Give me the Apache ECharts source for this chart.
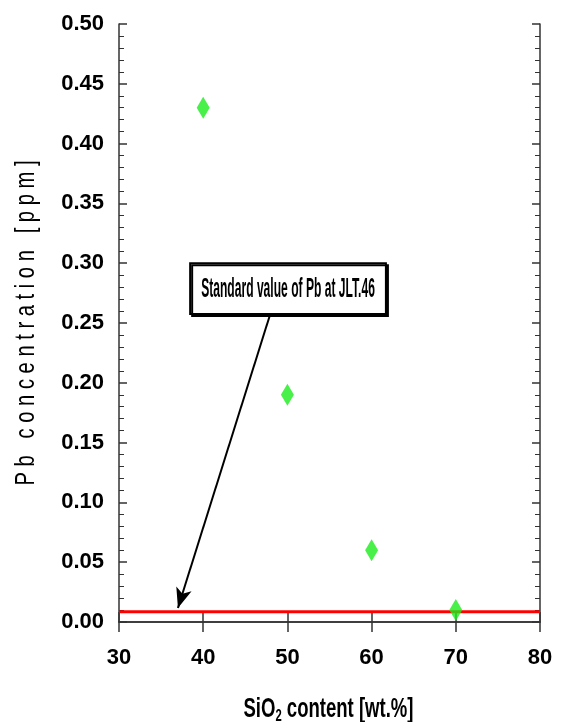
<!DOCTYPE html>
<html>
<head>
<meta charset="utf-8">
<script src="https://cdn.jsdelivr.net/npm/echarts@6/dist/echarts.min.js"></script>
<style>
html,body{margin:0;padding:0;background:#fff;}
#chart{width:563px;height:722px;}
</style>
</head>
<body>
<div id="chart"></div>
<script>
// Data
const sio2 = [40, 50, 60, 70];
const pb = [0.43, 0.19, 0.06, 0.01];
const standardValue = 0.0085;
const xRange = [30, 80];
const yRange = [0, 0.5];
const annotationText = 'Standard value of Pb at JLT.46';
const yTitle = 'P b   c o n c e n t r a t i o n   [ p p m ]';
const xTitleMain = 'SiO';
const xTitleSub = '2';
const xTitleRest = ' content [wt.%]';
const arrowFrom = [47.9, 0.256];
const arrowTo = [37.0, 0.0117];
const boxTopLeft = [38.45, 0.300];
const boxBottomRight = [61.7, 0.2575];

const FONT = '"Liberation Sans", Arial, sans-serif';

function measure(text, font) {
  const c = document.createElement('canvas').getContext('2d');
  c.font = font;
  return c.measureText(text).width;
}

const chart = echarts.init(document.getElementById('chart'), null, {renderer: 'canvas'});

const axisLine = {show: true, lineStyle: {color: '#333', width: 1.5}};

const option = {
  backgroundColor: '#fff',
  animation: false,
  grid: {left: 119, right: 23, top: 24, bottom: 100, containLabel: false, outerBoundsMode: 'none'},
  xAxis: [
    {
      type: 'value', position: 'bottom', min: xRange[0], max: xRange[1], interval: 10,
      axisLine: axisLine,
      axisTick: {show: true, inside: true, length: 10, lineStyle: {color: '#333', width: 1.5}},
      splitLine: {show: false},
      axisLabel: {color: '#000', fontFamily: FONT, fontWeight: 'bold', fontSize: 22, margin: 25}
    },
    {
      type: 'value', position: 'top', min: xRange[0], max: xRange[1], interval: 10,
      axisLine: axisLine,
      axisTick: {show: true, inside: true, length: 10, lineStyle: {color: '#333', width: 1.5}},
      splitLine: {show: false},
      axisLabel: {show: false}
    }
  ],
  yAxis: [
    {
      type: 'value', position: 'left', min: yRange[0], max: yRange[1], interval: 0.05,
      axisLine: axisLine,
      axisTick: {show: true, inside: true, length: 8, lineStyle: {color: '#333', width: 1.5}},
      minorTick: {show: true, splitNumber: 5, length: 5, lineStyle: {color: '#333', width: 1}},
      splitLine: {show: false},
      axisLabel: {color: '#000', fontFamily: FONT, fontWeight: 'bold', fontSize: 22, margin: 15,
        formatter: v => v.toFixed(2)}
    },
    {
      type: 'value', position: 'right', min: yRange[0], max: yRange[1], interval: 0.05,
      axisLine: axisLine,
      axisTick: {show: true, inside: true, length: 8, lineStyle: {color: '#333', width: 1.5}},
      minorTick: {show: true, splitNumber: 5, length: 5, lineStyle: {color: '#333', width: 1}},
      splitLine: {show: false},
      axisLabel: {show: false}
    }
  ],
  series: [
    {
      type: 'line',
      data: [[xRange[0], standardValue], [xRange[1], standardValue]],
      symbol: 'none',
      lineStyle: {color: '#ff0000', width: 3},
      z: 2,
      markLine: {
        silent: true,
        symbol: ['none', 'arrow'],
        symbolSize: [12, 20],
        lineStyle: {color: '#000', width: 2, type: 'solid'},
        label: {show: false},
        data: [[{coord: arrowFrom}, {coord: arrowTo}]]
      }
    },
    {
      type: 'scatter',
      data: sio2.map((x, i) => [x, pb[i]]),
      symbol: 'diamond',
      symbolSize: [13, 22],
      itemStyle: {color: '#1cec1c'},
      z: 3
    }
  ]
};

chart.setOption(option);

function drawExtras() {
  const p1 = chart.convertToPixel({gridIndex: 0}, boxTopLeft);
  const p2 = chart.convertToPixel({gridIndex: 0}, boxBottomRight);
  const pBL = chart.convertToPixel({gridIndex: 0}, [xRange[0], yRange[0]]);
  const pTR = chart.convertToPixel({gridIndex: 0}, [xRange[1], yRange[1]]);

  const boxFont = 'bold 27px "Liberation Sans", Arial, sans-serif';
  const boxW = measure(annotationText, boxFont);
  const boxScale = (p2[0] - p1[0] - 22) / boxW;

  const yFont = '28px "Liberation Sans", Arial, sans-serif';
  const yW = measure(yTitle, yFont);
  const yScale = (pBL[1] - pTR[1] - 273) / yW;

  const xFontBig = 'bold 28px "Liberation Sans", Arial, sans-serif';
  const xFontSmall = 'bold 17px "Liberation Sans", Arial, sans-serif';
  const xW = measure(xTitleMain + xTitleRest, xFontBig) + measure(xTitleSub, xFontSmall);
  const xScale = 170 / xW;

  chart.setOption({
    graphic: [
      {
        type: 'rect', z: 10,
        shape: {x: p1[0], y: p1[1], width: p2[0] - p1[0], height: p2[1] - p1[1]},
        style: {fill: '#fff', stroke: '#000', lineWidth: 2, shadowColor: '#000', shadowOffsetX: 2, shadowOffsetY: 2, shadowBlur: 0}
      },
      {
        type: 'text', z: 11,
        x: (p1[0] + p2[0]) / 2, y: (p1[1] + p2[1]) / 2 + 1,
        scaleX: boxScale,
        style: {text: annotationText, font: boxFont, fill: '#000', align: 'center', verticalAlign: 'middle'}
      },
      {
        type: 'text', z: 11,
        x: 26, y: (pBL[1] + pTR[1]) / 2,
        rotation: Math.PI / 2,
        scaleX: yScale,
        style: {text: yTitle, font: yFont, fill: '#000', align: 'center', verticalAlign: 'middle'}
      },
      {
        type: 'text', z: 11,
        x: (pBL[0] + pTR[0]) / 2 - 1, y: pBL[1] + 87,
        scaleX: xScale,
        style: {
          text: '{a|' + xTitleMain + '}{s|' + xTitleSub + '}{a|' + xTitleRest + '}',
          align: 'center', verticalAlign: 'middle',
          rich: {
            a: {font: xFontBig, fill: '#000', color: '#000'},
            s: {font: xFontSmall, fill: '#000', color: '#000', verticalAlign: 'bottom', padding: [14, 0, 0, 0]}
          }
        }
      }
    ]
  });
}
drawExtras();
</script>
</body>
</html>
